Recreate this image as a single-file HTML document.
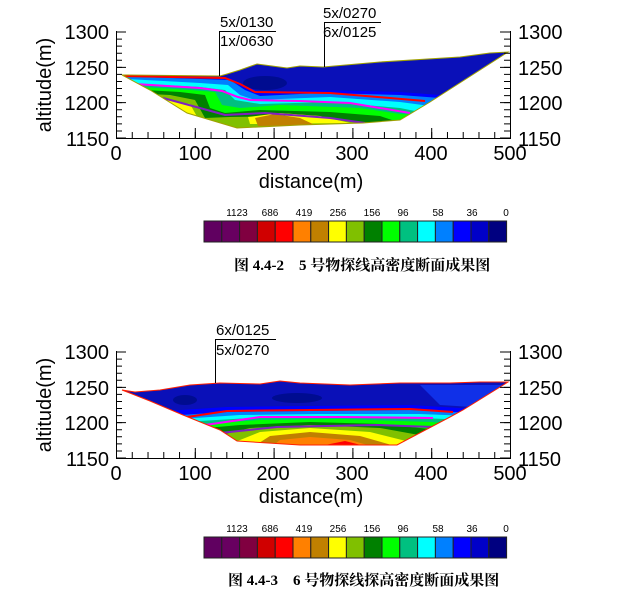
<!DOCTYPE html>
<html><head><meta charset="utf-8"><style>
body{margin:0;background:#fff}
svg{display:block}
text{font-family:"Liberation Sans",Arial,sans-serif}
.ax{font-size:20px}
.an{font-size:15px}
.cb{font-size:10px}
.cap{font-family:"Liberation Serif","Noto Serif CJK SC",serif;font-size:15px;font-weight:bold}
</style></head><body>
<svg width="622" height="602" viewBox="0 0 622 602" xmlns="http://www.w3.org/2000/svg">
<defs>
<clipPath id="c1"><polygon points="122,75 220,76 227,74 240,70 257,64 272,66 287,68 300,66 323,67 380,62 460,57 490,53 508,52 430,102 400,120 363,123 300,125 237,128 187,113 150,90"/></clipPath>
<clipPath id="c2"><polygon points="122,390 135,392 160,390 190,385 220,383 260,384 280,381 300,383 350,385 400,383 450,383 480,382 508,382 463,410 450,417 397,445 300,445 237,441 220,430 183,415 150,401"/></clipPath>
</defs>

<!-- ===== Chart 1 ===== -->
<g clip-path="url(#c1)">
<rect x="100" y="40" width="420" height="100" fill="#0a10b8"/>
<ellipse cx="265" cy="83" rx="22" ry="7" fill="#000c90"/>
<polygon fill="#0000ff" points="110,74 200,77 230,78 245,86 260,92 320,90 400,92 440,95 520,97 520,140 110,140"/>
<polygon fill="#0080ff" points="110,76 200,79 230,80 245,90 260,96 320,93 400,95 440,98 520,100 520,140 110,140"/>
<polygon fill="#00ffff" points="110,78 200,83 228,85 240,95 255,100 330,97 400,102 430,106 520,108 520,140 110,140"/>
<polygon fill="#00c080" points="110,82 200,87 225,90 235,100 260,104 330,102 400,108 420,112 520,114 520,140 110,140"/>
<polygon fill="#00ff00" points="110,85 190,90 215,92 222,105 240,108 280,105 360,108 400,114 520,118 520,140 110,140"/>
<polygon fill="#008000" points="110,88 180,92 205,95 210,108 225,113 260,110 330,112 380,116 395,121 520,125 520,140 110,140"/>
<polygon fill="#80c000" points="110,92 170,95 195,100 205,118 230,117 300,116 360,122 520,130 520,140 110,140"/>
<polygon fill="#ffff00" points="165,100 190,104 200,122 175,115"/>
<polygon fill="#ffff00" points="248,117 280,113 320,116 350,123 250,124"/>
<polygon fill="#c08000" points="255,118 275,114 300,118 315,125 258,126"/>
<polyline fill="none" stroke="#ff0000" stroke-width="2" points="122,76 225,78 240,84 255,92 330,93 425,101"/>
<polyline fill="none" stroke="#ff00ff" stroke-width="2" points="135,84 200,88 222,91 238,97 250,100 300,101 350,103 410,113"/>
<polyline fill="none" stroke="#8020c0" stroke-width="2" points="163,98 200,108 225,115 265,113 330,118 365,123"/>
</g>
<polygon fill="none" stroke="#a0a000" stroke-width="1" points="122,75 220,76 227,74 240,70 257,64 272,66 287,68 300,66 323,67 380,62 460,57 490,53 508,52 430,102 400,120 363,123 300,125 237,128 187,113 150,90"/>
<!-- axes 1 -->
<g stroke="#000" fill="none">
<path d="M116.5,31 V138.5 H510.5 V31"/>
<line x1="119" y1="31.5" x2="119" y2="139" stroke-width="6" stroke-dasharray="1 6.067"/>
<line x1="121" y1="31.5" x2="121" y2="139" stroke-width="10" stroke-dasharray="1 34.33"/>
<line x1="507" y1="31.5" x2="507" y2="139" stroke-width="6" stroke-dasharray="1 6.067"/>
<line x1="505" y1="31.5" x2="505" y2="139" stroke-width="10" stroke-dasharray="1 34.33"/>
<line x1="116" y1="135" x2="511" y2="135" stroke-width="6" stroke-dasharray="1 14.76"/>
<line x1="116" y1="133" x2="511" y2="133" stroke-width="10" stroke-dasharray="1 77.8"/>
</g>
<g class="ax" text-anchor="end"><text x="109" y="39">1300</text><text x="109" y="75">1250</text><text x="109" y="110">1200</text><text x="109" y="146">1150</text></g>
<g class="ax"><text x="518" y="39">1300</text><text x="518" y="75">1250</text><text x="518" y="110">1200</text><text x="518" y="146">1150</text></g>
<g class="ax" text-anchor="middle"><text x="116" y="160">0</text><text x="195" y="160">100</text><text x="273" y="160">200</text><text x="352" y="160">300</text><text x="431" y="160">400</text><text x="510" y="160">500</text>
<text x="311" y="188">distance(m)</text></g>
<text class="ax" text-anchor="middle" transform="translate(51,85) rotate(-90)">altitude(m)</text>
<g stroke="#000" fill="none"><path d="M219.5,76 V31.5 H276"/><path d="M324.5,67 V22.5 H381"/></g>
<g class="an"><text x="220" y="27">5x/0130</text><text x="220" y="46">1x/0630</text><text x="323" y="18">5x/0270</text><text x="323" y="37">6x/0125</text></g>

<!-- colorbar 1 -->
<g stroke="#222" stroke-width="1">
<rect x="204" y="221" width="17.8" height="21" fill="#600060"/><rect x="221.8" y="221" width="17.8" height="21" fill="#680060"/><rect x="239.6" y="221" width="17.8" height="21" fill="#800040"/><rect x="257.4" y="221" width="17.8" height="21" fill="#d00000"/><rect x="275.2" y="221" width="17.8" height="21" fill="#ff0000"/><rect x="293" y="221" width="17.8" height="21" fill="#ff8000"/><rect x="310.8" y="221" width="17.8" height="21" fill="#c08000"/><rect x="328.6" y="221" width="17.8" height="21" fill="#ffff00"/><rect x="346.4" y="221" width="17.8" height="21" fill="#80c000"/><rect x="364.2" y="221" width="17.8" height="21" fill="#008000"/><rect x="382" y="221" width="17.8" height="21" fill="#00ff00"/><rect x="399.8" y="221" width="17.8" height="21" fill="#00c080"/><rect x="417.6" y="221" width="17.8" height="21" fill="#00ffff"/><rect x="435.4" y="221" width="17.8" height="21" fill="#0080ff"/><rect x="453.2" y="221" width="17.8" height="21" fill="#0000ff"/><rect x="471" y="221" width="17.8" height="21" fill="#0000c8"/><rect x="488.8" y="221" width="17.8" height="21" fill="#000080"/>
</g>
<g class="cb" text-anchor="middle"><text x="237" y="216">1123</text><text x="270" y="216">686</text><text x="304" y="216">419</text><text x="338" y="216">256</text><text x="372" y="216">156</text><text x="403" y="216">96</text><text x="438" y="216">58</text><text x="472" y="216">36</text><text x="506" y="216">0</text></g>
<text class="cap" x="234" y="270">图 4.4-2&#160;&#160;&#160; 5 号物探线高密度断面成果图</text>

<!-- ===== Chart 2 ===== -->
<g clip-path="url(#c2)">
<rect x="100" y="370" width="420" height="90" fill="#0a10b8"/>
<ellipse cx="185" cy="400" rx="12" ry="5" fill="#000c90"/>
<ellipse cx="297" cy="398" rx="25" ry="5" fill="#000c90"/>
<polygon fill="#1030e8" points="420,385 520,385 520,410 440,405"/>
<polygon fill="#0000ff" points="150,412 227,407 310,406 410,405 460,408 520,410 520,460 150,460"/>
<polygon fill="#0080ff" points="150,417 227,412 310,411 410,410 453,412 520,414 520,460 150,460"/>
<polygon fill="#00ffff" points="150,421 240,415 320,414 420,414 520,418 520,460 150,460"/>
<polygon fill="#00c080" points="150,424 250,418 330,417 420,418 520,422 520,460 150,460"/>
<polygon fill="#00ff00" points="150,428 260,420 340,419 430,422 520,428 520,460 150,460"/>
<polygon fill="#008000" points="150,433 240,425 310,422 380,424 440,430 520,440 520,460 150,460"/>
<polygon fill="#80c000" points="180,445 250,428 310,425 380,428 430,437 450,460 180,460"/>
<polygon fill="#ffff00" points="215,450 260,432 310,428 370,432 410,442 420,460 215,460"/>
<polygon fill="#c08000" points="240,455 270,436 310,432 360,436 395,446 400,460 240,460"/>
<polygon fill="#ff8000" points="255,460 280,440 310,437 350,440 385,450 385,460"/>
<polygon fill="#ff0000" points="325,445 345,441 365,446 360,450 330,450"/>
<polyline fill="none" stroke="#ff0000" stroke-width="2" points="187,417 227,411 310,410 410,409 453,412"/>
<polyline fill="none" stroke="#ff00ff" stroke-width="2" points="205,425 260,417 343,417 433,418"/>
<polyline fill="none" stroke="#8020c0" stroke-width="2" points="220,433 277,427 377,425 433,427"/>
</g>
<polygon fill="none" stroke="#ff2000" stroke-width="1" points="122,390 135,392 160,390 190,385 220,383 260,384 280,381 300,383 350,385 400,383 450,383 480,382 508,382 463,410 450,417 397,445 300,445 237,441 220,430 183,415 150,401"/>
<!-- axes 2 -->
<g stroke="#000" fill="none">
<path d="M116.5,351 V458.5 H510.5 V351"/>
<line x1="119" y1="351.5" x2="119" y2="459" stroke-width="6" stroke-dasharray="1 6.067"/>
<line x1="121" y1="351.5" x2="121" y2="459" stroke-width="10" stroke-dasharray="1 34.33"/>
<line x1="507" y1="351.5" x2="507" y2="459" stroke-width="6" stroke-dasharray="1 6.067"/>
<line x1="505" y1="351.5" x2="505" y2="459" stroke-width="10" stroke-dasharray="1 34.33"/>
<line x1="116" y1="455" x2="511" y2="455" stroke-width="6" stroke-dasharray="1 14.76"/>
<line x1="116" y1="453" x2="511" y2="453" stroke-width="10" stroke-dasharray="1 77.8"/>
</g>
<g class="ax" text-anchor="end"><text x="109" y="359">1300</text><text x="109" y="395">1250</text><text x="109" y="430">1200</text><text x="109" y="466">1150</text></g>
<g class="ax"><text x="518" y="359">1300</text><text x="518" y="395">1250</text><text x="518" y="430">1200</text><text x="518" y="466">1150</text></g>
<g class="ax" text-anchor="middle"><text x="116" y="480">0</text><text x="195" y="480">100</text><text x="273" y="480">200</text><text x="352" y="480">300</text><text x="431" y="480">400</text><text x="510" y="480">500</text>
<text x="311" y="503">distance(m)</text></g>
<text class="ax" text-anchor="middle" transform="translate(51,405) rotate(-90)">altitude(m)</text>
<g stroke="#000" fill="none"><path d="M215.5,383 V339.5 H276"/></g>
<g class="an"><text x="216" y="335">6x/0125</text><text x="216" y="355">5x/0270</text></g>

<!-- colorbar 2 -->
<g stroke="#222" stroke-width="1">
<rect x="204" y="537" width="17.8" height="21" fill="#600060"/><rect x="221.8" y="537" width="17.8" height="21" fill="#680060"/><rect x="239.6" y="537" width="17.8" height="21" fill="#800040"/><rect x="257.4" y="537" width="17.8" height="21" fill="#d00000"/><rect x="275.2" y="537" width="17.8" height="21" fill="#ff0000"/><rect x="293" y="537" width="17.8" height="21" fill="#ff8000"/><rect x="310.8" y="537" width="17.8" height="21" fill="#c08000"/><rect x="328.6" y="537" width="17.8" height="21" fill="#ffff00"/><rect x="346.4" y="537" width="17.8" height="21" fill="#80c000"/><rect x="364.2" y="537" width="17.8" height="21" fill="#008000"/><rect x="382" y="537" width="17.8" height="21" fill="#00ff00"/><rect x="399.8" y="537" width="17.8" height="21" fill="#00c080"/><rect x="417.6" y="537" width="17.8" height="21" fill="#00ffff"/><rect x="435.4" y="537" width="17.8" height="21" fill="#0080ff"/><rect x="453.2" y="537" width="17.8" height="21" fill="#0000ff"/><rect x="471" y="537" width="17.8" height="21" fill="#0000c8"/><rect x="488.8" y="537" width="17.8" height="21" fill="#000080"/>
</g>
<g class="cb" text-anchor="middle"><text x="237" y="532">1123</text><text x="270" y="532">686</text><text x="304" y="532">419</text><text x="338" y="532">256</text><text x="372" y="532">156</text><text x="403" y="532">96</text><text x="438" y="532">58</text><text x="472" y="532">36</text><text x="506" y="532">0</text></g>
<text class="cap" x="228" y="585">图 4.4-3&#160;&#160;&#160; 6 号物探线探高密度断面成果图</text>
</svg>
</body></html>
